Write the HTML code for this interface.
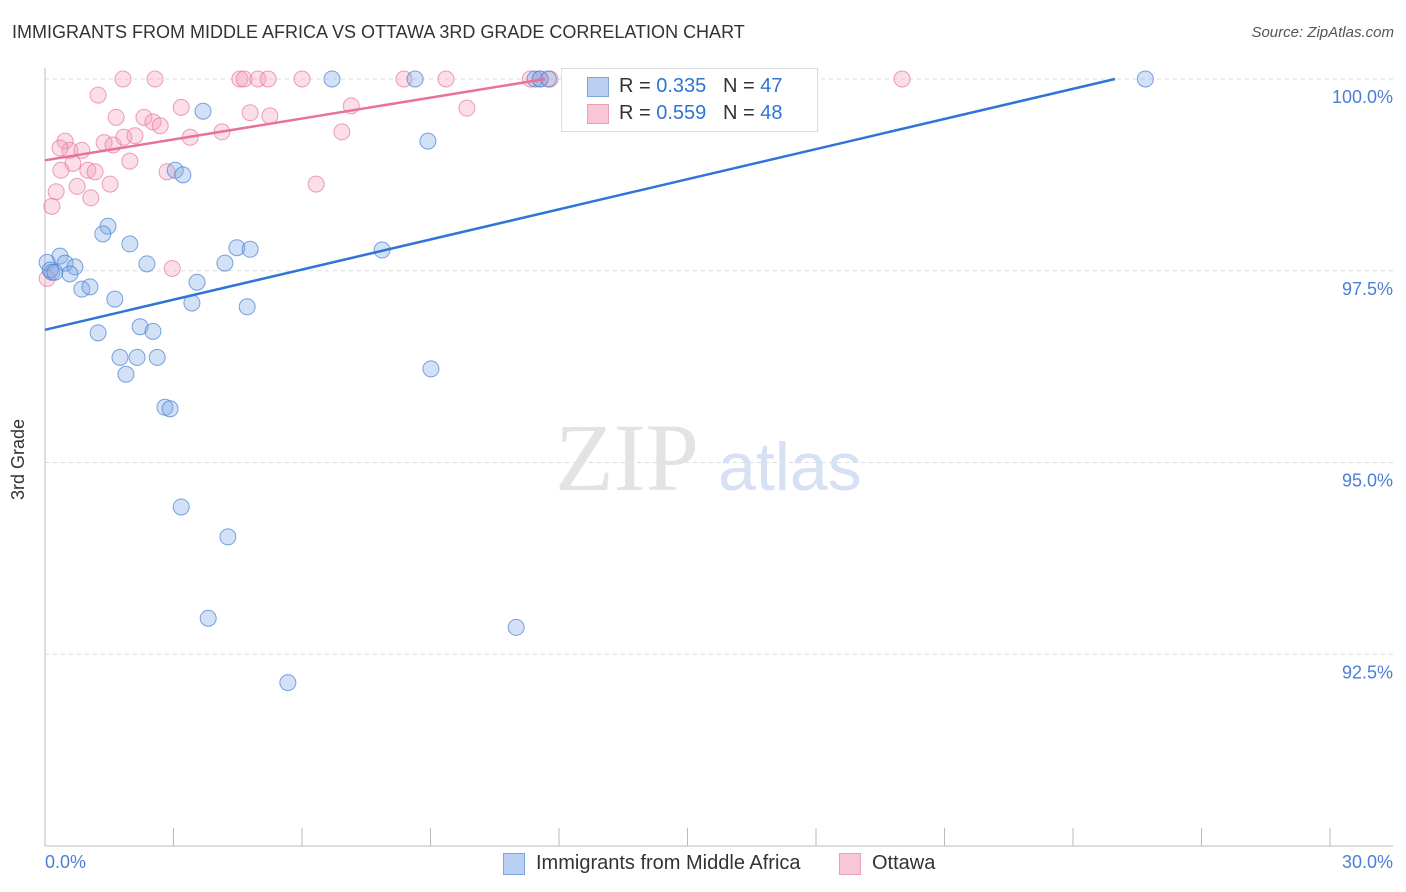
<!DOCTYPE html>
<html><head><meta charset="utf-8"><style>
body{margin:0;background:#fff;font-family:"Liberation Sans",sans-serif;}
#c{position:relative;width:1406px;height:892px;overflow:hidden;}
.t{position:absolute;white-space:nowrap;}
</style></head><body>
<div id="c">
<div class="t" style="left:12px;top:22px;font-size:18px;color:#333;">IMMIGRANTS FROM MIDDLE AFRICA VS OTTAWA 3RD GRADE CORRELATION CHART</div>
<div class="t" style="right:12px;top:24px;font-size:15px;color:#555;font-style:italic;">Source: ZipAtlas.com</div>
<svg id="s" width="1406" height="892" style="position:absolute;left:0;top:0"></svg>
</div>
<script>
const blueX=[6.70,8.64,11.44,11.56,11.75,25.69,3.69,8.94,3.04,3.22,1.47,1.35,1.98,4.48,4.79,7.87,0.35,0.05,0.47,0.70,2.38,4.20,0.16,0.58,3.55,0.86,1.05,1.63,3.43,4.72,2.22,2.52,1.24,1.75,2.15,2.62,1.89,9.01,2.80,2.92,3.18,4.27,3.81,11.00,5.67,0.12,0.23];
const blueY=[100,100,100,100,100,100,99.58,99.19,98.81,98.75,98.08,97.98,97.85,97.80,97.78,97.77,97.69,97.61,97.60,97.55,97.59,97.60,97.48,97.46,97.35,97.26,97.29,97.13,97.08,97.03,96.77,96.71,96.69,96.37,96.37,96.37,96.15,96.22,95.72,95.70,94.42,94.03,92.97,92.85,92.13,97.51,97.48];
const pinkX=[1.82,2.57,4.55,4.65,4.97,5.21,6.00,8.38,9.36,20.01,1.24,3.18,7.15,9.85,1.66,2.31,2.52,2.69,4.79,5.25,4.13,3.39,6.93,0.47,1.84,2.10,1.38,1.59,0.58,0.86,1.98,0.65,0.37,1.00,1.17,2.85,1.52,0.75,6.33,1.07,0.26,0.16,2.97,0.05,11.56,11.33,11.79,0.35];
const pinkY=[100,100,100,100,100,100,100,100,100,100,99.79,99.63,99.65,99.62,99.50,99.50,99.44,99.39,99.56,99.52,99.31,99.24,99.31,99.19,99.24,99.26,99.17,99.14,99.07,99.07,98.93,98.90,98.81,98.81,98.79,98.79,98.63,98.60,98.63,98.45,98.53,98.34,97.53,97.40,100,100,100,99.10];
const blueLine=[[0,96.73],[24.98,100]];
const pinkLine=[[0,98.94],[11.68,100]];
const yTicks=[100,97.5,95,92.5];
const yTickLabels=["100.0%","97.5%","95.0%","92.5%"];
const xTicks=[0,3,6,9,12,15,18,21,24,27,30];
const X=v=>45+v/30*1285, Y=v=>79+(100-v)/10*767;
const s=document.getElementById('s'),NS='http://www.w3.org/2000/svg';
function mk(t,a,p){const e=document.createElementNS(NS,t);for(const k in a)e.setAttribute(k,a[k]);(p||s).appendChild(e);return e;}
yTicks.forEach((v,i)=>{
 const l=mk('line',{x1:45,x2:1393,y1:Y(v),y2:Y(v),stroke:'#ddd','stroke-dasharray':'4,4'});
 
 
 const t=mk('text',{x:1393,y:Y(v)+24,'text-anchor':'end','font-size':18,fill:'#4a7fd4','font-family':'Liberation Sans'});
 t.textContent=yTickLabels[i];
 
 
});
mk('line',{x1:45,x2:45,y1:68,y2:846,stroke:'#bbb'});
mk('line',{x1:45,x2:1393,y1:846,y2:846,stroke:'#bbb'});
xTicks.forEach(v=>{const l=mk('line',{x1:X(v),x2:X(v),y1:828,y2:846,stroke:'#bbb'});
 
 });
const wm=mk('text',{x:555,y:490,'font-size':96,fill:'#e3e3e3','font-family':'Liberation Serif'});wm.textContent='ZIP';
const wm2=mk('text',{x:718,y:490,'font-size':68,fill:'#d6e2f3','font-family':'Liberation Sans'});wm2.textContent='atlas';
function pts(xs,ys,fill,stroke,name){xs.forEach((x,i)=>{
 const c=mk('circle',{cx:X(x),cy:Y(ys[i]),r:8,fill:fill,stroke:stroke,'stroke-width':1});
 
 });}
pts(pinkX,pinkY,'rgba(244,160,185,0.35)','rgba(230,120,155,0.7)','ottawa-point');
pts(blueX,blueY,'rgba(130,170,230,0.35)','rgba(70,125,210,0.7)','middle-africa-point');
const bl=mk('line',{x1:X(blueLine[0][0]),y1:Y(blueLine[0][1]),x2:X(blueLine[1][0]),y2:Y(blueLine[1][1]),stroke:'#2f74d6','stroke-width':2.5});


const pl=mk('line',{x1:X(pinkLine[0][0]),y1:Y(pinkLine[0][1]),x2:X(pinkLine[1][0]),y2:Y(pinkLine[1][1]),stroke:'#e8729a','stroke-width':2.5});


</script>
<div class="t" style="left:45px;top:852px;font-size:18px;color:#4a7fd4;">0.0%</div>
<div class="t" style="right:13px;top:852px;font-size:18px;color:#4a7fd4;">30.0%</div>
<div class="t" style="left:8px;top:455px;font-size:18px;color:#333;transform:rotate(-90deg);transform-origin:left top;margin-top:45px;">3rd Grade</div>
<div style="position:absolute;left:561px;top:68px;width:255px;height:62px;border:1px solid #ddd;background:#fff;font-size:20px;color:#333;">
 <div style="position:absolute;left:25px;top:8px;width:20px;height:18px;background:#b9d0f2;border:1px solid #7aa3df;"></div>
 <div class="t" style="left:57px;top:6px;">R = <span style="color:#2f74d6">0.335</span>&nbsp;&nbsp;&nbsp;N = <span style="color:#2f74d6">47</span></div>
 <div style="position:absolute;left:25px;top:35px;width:20px;height:18px;background:#f8c6d5;border:1px solid #e8a0b8;"></div>
 <div class="t" style="left:57px;top:33px;">R = <span style="color:#2f74d6">0.559</span>&nbsp;&nbsp;&nbsp;N = <span style="color:#2f74d6">48</span></div>
</div>
<div style="position:absolute;left:503px;top:853px;width:20px;height:20px;background:#b9d0f2;border:1px solid #7aa3df;"></div>
<div class="t" style="left:536px;top:852px;font-size:20px;color:#333;">Immigrants from Middle Africa</div>
<div style="position:absolute;left:839px;top:853px;width:20px;height:20px;background:#f8c6d5;border:1px solid #e8a0b8;"></div>
<div class="t" style="left:872px;top:852px;font-size:20px;color:#333;">Ottawa</div>
</body></html>
